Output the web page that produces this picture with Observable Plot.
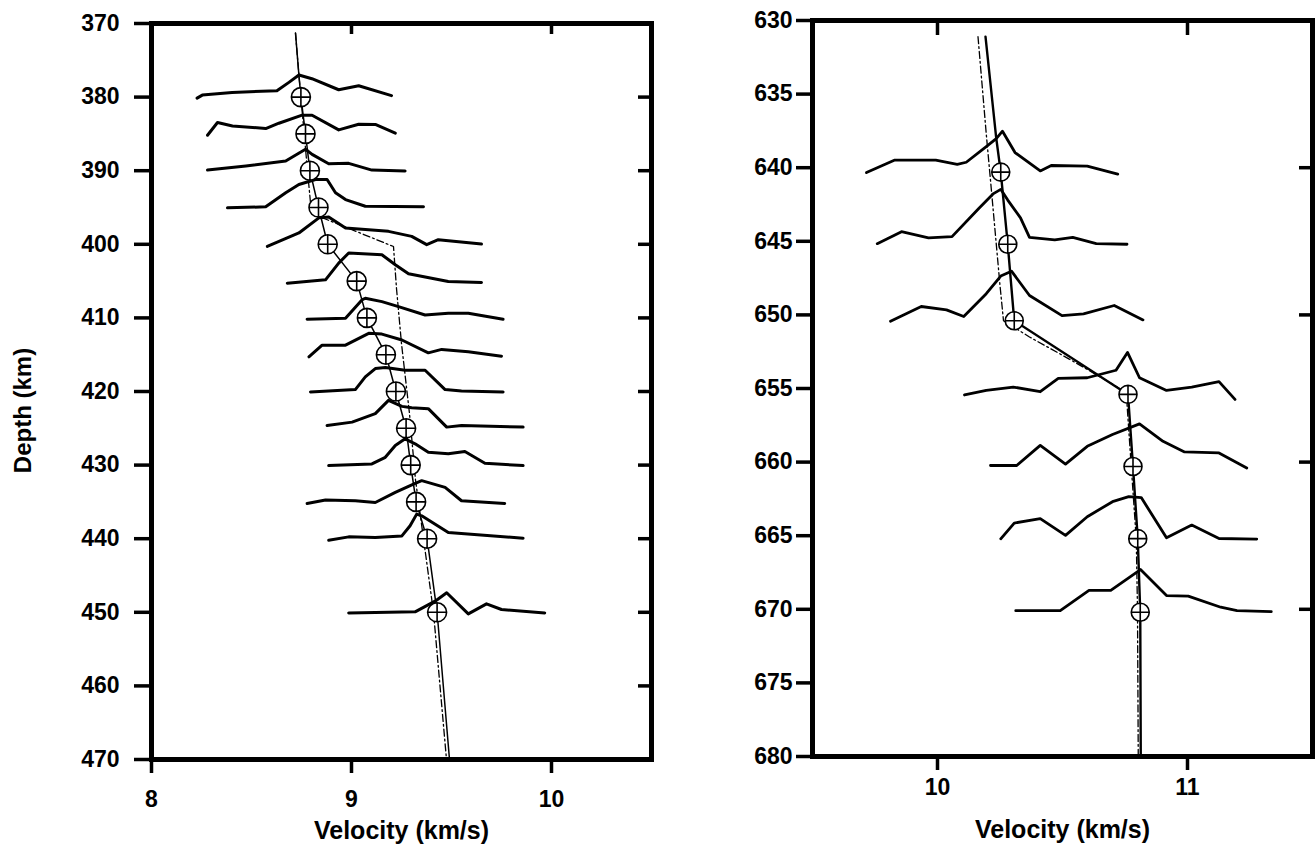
<!DOCTYPE html>
<html><head><meta charset="utf-8">
<script src="https://cdn.jsdelivr.net/npm/d3@7"></script>
<script src="https://cdn.jsdelivr.net/npm/@observablehq/plot@0.6"></script>
<style>
html,body{margin:0;padding:0;background:#fff;}
#wrap{display:flex;width:1316px;height:844px;overflow:hidden;}
</style></head><body><div id="wrap"></div>
<script>
// ---------- LEFT PANEL DATA (velocity km/s, depth km) ----------
const leftMarkDepth = [380,385,390,395,400,405,410,415,420,425,430,435,440,450];
const leftMarkVel   = [8.747,8.770,8.792,8.835,8.881,9.026,9.077,9.172,9.222,9.273,9.296,9.323,9.378,9.428];
const leftModelVel   = [8.72,8.737,8.747,8.770,8.792,8.835,8.881,9.026,9.077,9.172,9.222,9.273,9.296,9.323,9.378,9.428,9.49];
const leftModelDepth = [371.3,377,380,385,390,395,400,405,410,415,420,425,430,435,440,450,470];
const leftRefVel   = [8.72,8.737,8.78,8.80,9.21,9.225,9.25,9.29,9.32,9.385,9.41,9.475];
const leftRefDepth = [371.3,377,390,395.8,400.3,406,413.5,423,432,445,450,470];
const leftTraces = [
 [[8.228,380.14],[8.254,379.73],[8.403,379.36],[8.627,379.14],[8.687,378.0],[8.737,377.0],[8.802,377.5],[8.936,379.0],[9.036,378.46],[9.200,379.8]],
 [[8.280,385.18],[8.330,383.45],[8.405,383.92],[8.571,384.27],[8.637,383.55],[8.753,382.46],[8.803,382.46],[8.936,384.46],[9.036,383.68],[9.119,383.72],[9.219,384.91]],
 [[8.280,389.92],[8.472,389.37],[8.671,388.69],[8.770,387.09],[8.803,387.78],[8.886,389.05],[8.986,389.0],[9.102,389.92],[9.268,390.05]],
 [[8.380,395.05],[8.571,394.91],[8.671,393.0],[8.737,391.87],[8.820,391.19],[8.878,391.19],[8.920,393.0],[8.970,393.92],[9.069,394.83],[9.360,394.91]],
 [[8.579,400.29],[8.737,398.46],[8.837,396.41],[8.886,396.28],[8.970,397.78],[9.185,398.24],[9.301,398.92],[9.376,400.05],[9.434,399.37],[9.650,399.96]],
 [[8.679,405.28],[8.870,404.83],[8.936,402.55],[8.986,401.19],[9.152,401.42],[9.219,402.78],[9.285,404.01],[9.484,405.06],[9.650,405.2]],
 [[8.778,410.19],[8.970,410.05],[9.052,407.56],[9.069,407.33],[9.152,407.79],[9.235,408.47],[9.368,409.6],[9.484,409.37],[9.584,409.37],[9.758,410.19]],
 [[8.787,415.29],[8.853,413.70],[8.970,413.70],[9.086,412.1],[9.152,412.2],[9.252,413.0],[9.384,414.75],[9.451,414.28],[9.584,414.61],[9.750,415.2]],
 [[8.795,420.07],[9.019,419.74],[9.069,418.02],[9.119,416.88],[9.169,416.74],[9.268,417.11],[9.368,417.11],[9.468,419.74],[9.550,419.93],[9.758,420.07]],
 [[8.878,424.61],[9.003,424.16],[9.119,423.01],[9.185,421.2],[9.252,422.02],[9.301,422.2],[9.384,422.33],[9.476,424.84],[9.550,424.61],[9.858,424.84]],
 [[8.886,430.07],[9.102,429.84],[9.169,428.94],[9.219,427.34],[9.268,426.43],[9.318,427.11],[9.384,428.26],[9.484,428.47],[9.567,428.16],[9.667,429.75],[9.858,430.07]],
 [[8.778,435.21],[8.870,434.75],[9.019,434.84],[9.119,435.08],[9.219,433.71],[9.310,432.57],[9.351,432.11],[9.468,433.03],[9.550,434.84],[9.766,435.21]],
 [[8.886,440.21],[8.986,439.75],[9.119,439.85],[9.252,439.62],[9.293,438.25],[9.326,436.66],[9.351,436.89],[9.484,439.17],[9.858,439.93]],
 [[8.986,450.08],[9.318,449.94],[9.418,448.49],[9.476,447.35],[9.584,450.22],[9.675,448.85],[9.750,449.62],[9.966,450.08]]
];
const leftYTicks = [370,380,390,400,410,420,430,440,450,460,470];
const leftYTicksRight = [380,390,400,410,420,430,440,450,460];
const leftXTicks = [8,9,10];
const leftXTicksTop = [9,10];

// ---------- RIGHT PANEL DATA ----------
const rightMarkDepth = [640.3,645.2,650.4,655.4,660.3,665.2,670.2];
const rightMarkVel   = [10.253,10.281,10.307,10.762,10.782,10.801,10.811];
const rightModelVel   = [10.192,10.235,10.253,10.281,10.307,10.762,10.782,10.801,10.811,10.813];
const rightModelDepth = [631.1,638.0,640.3,645.2,650.4,655.4,660.3,665.2,670.2,680];
const rightRefVel   = [10.162,10.195,10.216,10.25,10.264,10.368,10.527,10.70,10.755,10.775,10.795,10.80,10.803];
const rightRefDepth = [631.1,637.7,641.6,648.0,650.4,651.5,653.0,654.7,655.3,660.3,665.2,670,680];
const rightTraces = [
 [[9.716,640.33],[9.827,639.49],[9.993,639.49],[10.079,639.78],[10.115,639.63],[10.195,638.57],[10.235,638.02],[10.260,637.52],[10.310,638.97],[10.411,640.22],[10.455,639.85],[10.599,639.89],[10.721,640.44]],
 [[9.759,645.16],[9.856,644.35],[9.964,644.77],[10.058,644.68],[10.166,642.75],[10.224,641.76],[10.253,641.47],[10.281,642.2],[10.332,643.41],[10.368,644.73],[10.469,644.9],[10.541,644.73],[10.635,645.16],[10.758,645.2]],
 [[9.812,650.43],[9.935,649.43],[10.036,649.66],[10.105,650.11],[10.195,648.56],[10.253,647.36],[10.296,647.03],[10.368,648.68],[10.498,650.05],[10.584,649.93],[10.707,649.36],[10.822,650.34]],
 [[10.108,655.44],[10.195,655.13],[10.303,654.9],[10.411,655.22],[10.483,654.31],[10.599,654.27],[10.714,653.76],[10.760,652.55],[10.808,654.27],[10.916,655.13],[11.017,654.9],[11.126,654.53],[11.190,655.74]],
 [[10.212,660.23],[10.317,660.23],[10.411,658.86],[10.512,660.14],[10.599,658.93],[10.700,658.13],[10.808,657.4],[10.902,658.59],[10.988,659.31],[11.126,659.38],[11.237,660.4]],
 [[10.253,665.21],[10.307,664.14],[10.411,663.84],[10.512,664.98],[10.599,663.71],[10.700,662.69],[10.765,662.35],[10.815,662.41],[10.916,665.14],[11.017,664.28],[11.126,665.19],[11.277,665.23]],
 [[10.313,670.09],[10.491,670.09],[10.606,668.72],[10.693,668.72],[10.812,667.3],[10.916,669.07],[11.003,669.11],[11.133,669.86],[11.198,670.09],[11.335,670.16]]
];
const rightYTicks = [630,635,640,645,650,655,660,665,670,675,680];
const rightYTicksRight = [640,650,660,670];
const rightXTicks = [10,11];
const rightXTicksTop = [10,11];

const xLabel = "Velocity (km/s)";
const yLabel = "Depth (km)";

// ---------- helpers ----------
const circlePlus = {
  draw(context, size) {
    const r = Math.sqrt(size / Math.PI);
    context.moveTo(r, 0);
    context.arc(0, 0, r, 0, 2 * Math.PI);
    context.moveTo(-r, 0); context.lineTo(r, 0);
    context.moveTo(0, -r); context.lineTo(0, r);
  }
};
const FONT = "'Liberation Sans', Arial, Helvetica, sans-serif";
const intFmt = d => String(Math.round(d));
const zip = (a, b) => a.map((v, i) => ({v, d: b[i]}));
const traceRows = traces => traces.flatMap((pts, id) => pts.map(([v, d]) => ({v, d, id})));

function panel(o) {
  const marks = [
    Plot.line(traceRows(o.traces), {x: "v", y: "d", z: "id", stroke: "black", strokeWidth: o.traceW, strokeLinejoin: "round", strokeLinecap: "round", curve: "linear"}),
    Plot.line(zip(o.refV, o.refD), {x: "v", y: "d", stroke: "black", strokeWidth: 1.3, strokeDasharray: "7,3,1.8,3"}),
    Plot.line(zip(o.modelV, o.modelD), {x: "v", y: "d", stroke: "black", strokeWidth: o.modelW}),
    Plot.dot(zip(o.markV, o.markD), {x: "v", y: "d", r: o.markR, symbol: circlePlus, fill: "white", stroke: "black", strokeWidth: 1.6}),
    Plot.axisY({anchor: "left", ticks: o.yTicks, tickFormat: intFmt, tickSize: o.yTickSize, tickPadding: o.yTickPad, strokeWidth: 3.5, fontSize: 23, fontWeight: "bold", label: null}),
    Plot.axisY({anchor: "right", ticks: o.yTicksRight, tickSize: -14, tickFormat: () => "", strokeWidth: 3.5, label: null}),
    Plot.axisX({anchor: "bottom", ticks: o.xTicks, tickFormat: intFmt, tickSize: 14, tickPadding: o.xTickPad, strokeWidth: 3.5, fontSize: 23, fontWeight: "bold", label: null}),
    Plot.axisX({anchor: "top", ticks: o.xTicksTop, tickSize: -o.topTick, tickFormat: () => "", strokeWidth: 3.5, label: null}),
    Plot.frame({stroke: "black", strokeWidth: 5}),
    Plot.text([xLabel], {text: d => d, frameAnchor: "bottom", textAnchor: "middle", lineAnchor: "middle", dy: o.xLabelDy, fontSize: 25, fontWeight: "bold"})
  ];
  if (o.showYLabel) marks.push(Plot.text([yLabel], {text: d => d, frameAnchor: "left", textAnchor: "middle", lineAnchor: "middle", dx: -128, dy: 19, rotate: -90, fontSize: 24, fontWeight: "bold"}));
  return Plot.plot({
    width: o.width, height: 844,
    marginLeft: o.ml, marginRight: o.mr, marginTop: o.mt, marginBottom: o.mb,
    style: {fontFamily: FONT, fontWeight: "bold", background: "white", color: "black", overflow: "visible"},
    x: {domain: o.xDomain},
    y: {domain: o.yDomain, reverse: true},
    marks
  });
}

const wrap = document.getElementById("wrap");
wrap.appendChild(panel({
  traces: leftTraces, markV: leftMarkVel, markD: leftMarkDepth,
  modelV: leftModelVel, modelD: leftModelDepth, refV: leftRefVel, refD: leftRefDepth,
  xDomain: [8, 10.5], yDomain: [370, 470],
  yTicks: leftYTicks, yTicksRight: leftYTicksRight, xTicks: leftXTicks, xTicksTop: leftXTicksTop,
  width: 700, ml: 151, mr: 49, mt: 23, mb: 85,
  yTickSize: 17, yTickPad: 15, xTickPad: 17, topTick: 10, xLabelDy: 71,
  traceW: 3, modelW: 1.5, markR: 9.5, showYLabel: true
}));
wrap.appendChild(panel({
  traces: rightTraces, markV: rightMarkVel, markD: rightMarkDepth,
  modelV: rightModelVel, modelD: rightModelDepth, refV: rightRefVel, refD: rightRefDepth,
  xDomain: [9.5, 11.5], yDomain: [630, 680],
  yTicks: rightYTicks, yTicksRight: rightYTicksRight, xTicks: rightXTicks, xTicksTop: rightXTicksTop,
  width: 616, ml: 112, mr: 4, mt: 20, mb: 88,
  yTickSize: 16, yTickPad: 4, xTickPad: 8, topTick: 14, xLabelDy: 73,
  traceW: 2.8, modelW: 2.4, markR: 9, showYLabel: false
}));
</script></body></html>
